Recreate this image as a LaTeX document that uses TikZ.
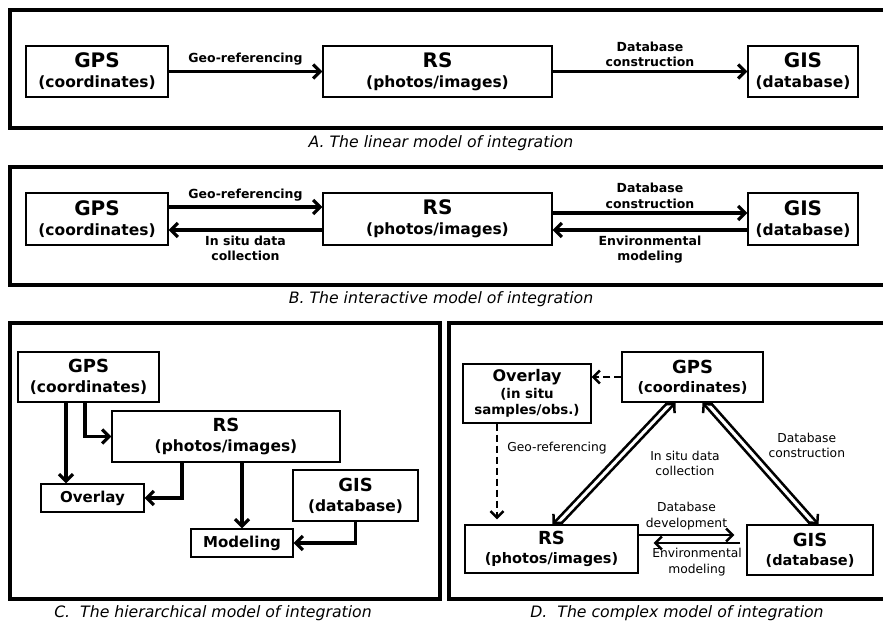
\documentclass[tikz,border=0pt]{standalone}
\usepackage{fontspec}
\setmainfont{DejaVu Sans}
\usetikzlibrary{arrows.meta}

% font presets
\newcommand\bxtitlebig{\fontsize{20}{20}\selectfont\bfseries}
\newcommand\bxtitle{\fontsize{18}{19}\selectfont\bfseries}
\newcommand\bxsub{\fontsize{15.5}{20}\selectfont\bfseries}
\newcommand\bxsubd{\fontsize{14.5}{19}\selectfont\bfseries}
\newcommand\bxsmall{\fontsize{13.4}{16.5}\selectfont\bfseries}
\newcommand\bxone{\fontsize{15}{18}\selectfont\bfseries}
\newcommand\lblbold{\fontsize{12.5}{15.5}\selectfont\bfseries}
\newcommand\lblreg{\fontsize{12.3}{15.5}\selectfont}
\newcommand\captext{\fontsize{15.7}{18}\selectfont\itshape}

\tikzset{
  frame/.style={line width=3.3pt},
  bx/.style={draw, line width=1.3pt, inner sep=0pt, align=center},
  arr/.style={line width=3.1pt, -{Straight Barb[length=7pt,width=14pt]}},
  arrd/.style={line width=2.5pt, -{Straight Barb[length=6.5pt,width=13pt]}},
  dasharr/.style={arrd, dash pattern=on 7pt off 4pt},
  lbl/.style={font=\lblbold, align=center, inner sep=1pt},
  lbld/.style={font=\lblreg, align=center, inner sep=1pt},
  captionlbl/.style={font=\captext, inner sep=0pt},
}

\begin{document}
\begin{tikzpicture}[x=1pt,y=-1pt]
\useasboundingbox (0,0) rectangle (883,624);
\fill[white] (0,0) rectangle (883,624);

% panel frames
\begin{scope}
  \clip (0,0) rectangle (883,624);
  \draw[frame] (10,10) rectangle (895,128);
  \draw[frame] (10,167) rectangle (895,285);
  \draw[frame] (10,323) rectangle (440,599);
  \draw[frame] (449,323) rectangle (895,599);
\end{scope}

% captions
\node[captionlbl] (capA) at (441,143) {A. The linear model of integration};
\node[captionlbl] (capB) at (441,299) {B. The interactive model of integration};
\node[captionlbl] (capC) at (213,613) {C.\ \ The hierarchical model of integration};
\node[captionlbl] (capD) at (677,613) {D.\ \ The complex model of integration};

% ---- A: linear model ----
\node[bx, font=\bxsub, minimum width=142pt, minimum height=51pt] (a-gps) at (97,71.5) {{\bxtitlebig GPS}\\(coordinates)};
\node[bx, font=\bxsub, minimum width=229pt, minimum height=51pt] (a-rs) at (437.5,71.5) {{\bxtitlebig RS}\\(photos/images)};
\node[bx, font=\bxsub, minimum width=110pt, minimum height=51pt] (a-gis) at (803,71.5) {{\bxtitlebig GIS}\\(database)};
\draw[arr] (a-gps) -- node[lbl, above=4pt] {Geo-referencing} (a-rs);
\draw[arr] (a-rs) -- node[lbl, above=2pt] {Database\\construction} (a-gis);

% ---- B: interactive model ----
\node[bx, font=\bxsub, minimum width=142pt, minimum height=52pt] (b-gps) at (97,219) {{\bxtitlebig GPS}\\(coordinates)};
\node[bx, font=\bxsub, minimum width=229pt, minimum height=52pt] (b-rs) at (437.5,219) {{\bxtitlebig RS}\\(photos/images)};
\node[bx, font=\bxsub, minimum width=110pt, minimum height=52pt] (b-gis) at (803,219) {{\bxtitlebig GIS}\\(database)};
\draw[arr] ([yshift=12pt]b-gps.east) -- node[lbl, above=3pt] {Geo-referencing} ([yshift=12pt]b-rs.west);
\draw[arr] ([yshift=-11pt]b-rs.west) -- node[lbl, below=3pt] {In situ data\\collection} ([yshift=-11pt]b-gps.east);
\draw[arr] ([yshift=6pt]b-rs.east) -- node[lbl, above=2pt] {Database\\construction} ([yshift=6pt]b-gis.west);
\draw[arr] ([yshift=-11pt]b-gis.west) -- node[lbl, below=3pt] {Environmental\\modeling} ([yshift=-11pt]b-rs.east);

% ---- C: hierarchical model ----
\node[bx, font=\bxsub, minimum width=141pt, minimum height=50pt] (c-gps) at (88.5,377) {{\bxtitle GPS}\\(coordinates)};
\node[bx, font=\bxsub, minimum width=228pt, minimum height=51pt] (c-rs) at (226,436.5) {{\bxtitle RS}\\(photos/images)};
\node[bx, font=\bxsub, minimum width=125pt, minimum height=51pt] (c-gis) at (355.5,495.5) {{\bxtitle GIS}\\(database)};
\node[bx, font=\bxone, minimum width=103pt, minimum height=28pt] (c-ov) at (92.5,498) {Overlay};
\node[bx, font=\bxone, minimum width=102pt, minimum height=28pt] (c-mod) at (242,543) {Modeling};
\coordinate (c-gps-l) at ([xshift=-22.5pt]c-gps.south);
\coordinate (c-gps-r) at ([xshift=-3.5pt]c-gps.south);
\coordinate (c-rs-l) at ([xshift=-44pt]c-rs.south);
\draw[arr] (c-gps-l) -- (c-gps-l |- c-ov.north);
\draw[arr] (c-gps-r) |- (c-rs.west);
\draw[arr] (c-rs-l) |- (c-ov.east);
\draw[arr] (c-rs.south -| c-mod.north) -- (c-mod.north);
\draw[arr] (c-gis.south) |- (c-mod.east);

% ---- D: complex model ----
\node[bx, font=\bxsubd, minimum width=141pt, minimum height=50pt] (d-gps) at (692.5,377) {{\bxtitle GPS}\\(coordinates)};
\node[bx, font=\bxsmall, minimum width=128pt, minimum height=59pt] (d-ov) at (527,393.5) {{\fontsize{16}{16}\selectfont\bfseries Overlay}\\(in situ\\samples/obs.)};
\node[bx, font=\bxsubd, minimum width=173pt, minimum height=48pt] (d-rs) at (551.5,549) {{\bxtitle RS}\\(photos/images)};
\node[bx, font=\bxsubd, minimum width=126pt, minimum height=50pt] (d-gis) at (810,550) {{\bxtitle GIS}\\(database)};

\draw[dasharr] (d-gps.west) -- (d-gps.west -| d-ov.east);
\coordinate (d-ovb) at ([xshift=-30pt]d-ov.south);
\draw[dasharr, shorten >=5pt] (d-ovb) -- node[lbld, pos=0.245, right=8pt] {Geo-referencing} (d-ovb |- d-rs.north);

% GPS <-> RS pair
\draw[arrd] ([xshift=-25pt]d-gps.south) -- ([xshift=1pt]d-rs.north);
\draw[arrd] ([xshift=9pt]d-rs.north) -- node[lbld, pos=0.5, right=30pt] {In situ data\\collection} ([xshift=-17pt]d-gps.south);

% GPS <-> GIS pair
\draw[arrd] ([xshift=18pt]d-gps.south) -- node[lbld, pos=0.35, right=18pt] {Database\\construction} ([xshift=8.5pt]d-gis.north);
\draw[arrd] ([xshift=0.5pt]d-gis.north) -- ([xshift=10pt]d-gps.south);

% RS <-> GIS pair
\draw[arrd] ([yshift=14pt]d-rs.east) -- node[lbld, above=3pt] {Database\\development} ([xshift=-12pt,yshift=15pt]d-gis.west);
\draw[arrd] ([xshift=-6pt,yshift=7pt]d-gis.west) -- node[lbld, below=3pt] {Environmental\\modeling} ([xshift=15pt,yshift=6pt]d-rs.east);

\end{tikzpicture}
\end{document}
